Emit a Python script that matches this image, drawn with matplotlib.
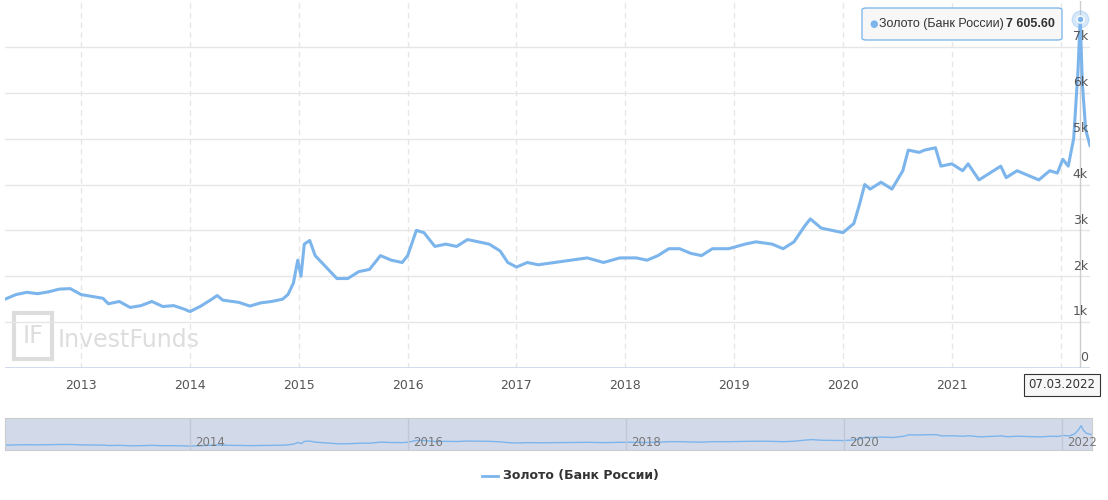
import matplotlib
matplotlib.use("Agg")
import matplotlib.pyplot as plt
from matplotlib.patches import FancyBboxPatch, Rectangle

t = [2012.30,2012.4,2012.5,2012.6,2012.7,2012.8,2012.9,2013.0,2013.1,2013.2,2013.25,2013.35,2013.45,2013.55,2013.65,2013.75,2013.85,2013.95,2014.0,2014.1,2014.2,2014.25,2014.3,2014.45,2014.55,2014.65,2014.75,2014.85,2014.9,2014.95,2014.99,2015.02,2015.05,2015.1,2015.15,2015.25,2015.35,2015.45,2015.55,2015.65,2015.75,2015.85,2015.95,2016.0,2016.08,2016.15,2016.25,2016.35,2016.45,2016.55,2016.65,2016.75,2016.85,2016.92,2017.0,2017.1,2017.2,2017.35,2017.5,2017.65,2017.8,2017.95,2018.1,2018.2,2018.3,2018.4,2018.5,2018.6,2018.7,2018.8,2018.95,2019.1,2019.2,2019.35,2019.45,2019.55,2019.65,2019.7,2019.8,2019.9,2020.0,2020.1,2020.15,2020.2,2020.25,2020.35,2020.45,2020.55,2020.6,2020.7,2020.75,2020.85,2020.9,2021.0,2021.1,2021.15,2021.25,2021.35,2021.45,2021.5,2021.6,2021.7,2021.8,2021.9,2021.97,2022.02,2022.07,2022.12,2022.16,2022.18,2022.2,2022.23,2022.27]
v = [1500,1600,1650,1620,1660,1720,1730,1600,1560,1520,1400,1450,1320,1360,1450,1340,1360,1280,1230,1350,1500,1580,1480,1430,1350,1420,1450,1500,1600,1850,2350,2000,2700,2780,2450,2200,1950,1950,2100,2150,2450,2350,2300,2450,3000,2950,2650,2700,2650,2800,2750,2700,2550,2300,2200,2300,2250,2300,2350,2400,2300,2400,2400,2350,2450,2600,2600,2500,2450,2600,2600,2700,2750,2700,2600,2750,3100,3250,3050,3000,2950,3150,3550,4000,3900,4050,3900,4300,4750,4700,4750,4800,4400,4450,4300,4450,4100,4250,4400,4150,4300,4200,4100,4300,4250,4550,4400,5000,6500,7605.6,6200,5200,4850]
years = list(range(2013, 2023))
yticks = [0,1000,2000,3000,4000,5000,6000,7000]
ylabels = ["0","1k","2k","3k","4k","5k","6k","7k"]
nav_years = [2014, 2016, 2018, 2020, 2022]
series = "Золото (Банк России)"
col = "#7cb5ec"
x0, x1 = 2012.30, 2022.27

fig = plt.figure(figsize=(11.08, 5.0), dpi=100)
ax = fig.add_axes([5/1108, 0.264, 1085/1108, 0.734])
ax.plot(t, v, color=col, lw=2.2, zorder=3)
ax.set_xlim(x0, x1); ax.set_ylim(0, 8000)
for y in yticks:
    ax.axhline(y, color="#e6e6e6", lw=1, zorder=1)
for y in years:
    ax.axvline(y, color="#e6e6e6", lw=1, ls=(0,(4,3)), zorder=1)
ax.axhline(0, color="#ccd6eb", lw=1.2, zorder=2)
ax.set_xticks([]); ax.set_yticks([])
for s in ax.spines.values(): s.set_visible(False)
for y in years[:-1]:
    ax.text(y, -250, str(y), ha="center", va="top", fontsize=9, color="#555555")
for y, l in zip(yticks, ylabels):
    ax.text(x1 - 0.02, y+80, l, ha="right", va="bottom", fontsize=9, color="#555555")
ax.text(2012.78, 600, "InvestFunds", fontsize=17, color="#dddddd", va="center", zorder=0)
ax.add_patch(Rectangle((2012.38, 200), 0.35, 1000, fill=False, ec="#dddddd", lw=3, zorder=0))
ax.text(2012.555, 700, "IF", fontsize=17, color="#dddddd", ha="center", va="center", zorder=0)
ax.plot([2022.18],[7605.6], 'o', ms=12, color=col, alpha=0.3, zorder=4)
ax.plot([2022.18],[7605.6], 'o', ms=5, color=col, mec="white", zorder=5)
ax.axvline(2022.18, color="#cccccc", lw=1, zorder=2)

fig.patches.append(FancyBboxPatch((862/1108, 1-40/500), 200/1108, 32/500, boxstyle="round,pad=0,rounding_size=0.004",
    transform=fig.transFigure, fc="#f7f7f7", ec=col, lw=1, alpha=0.95, zorder=5))
fig.text(869/1108, 1-24/500, "●", color=col, fontsize=7, va="center", zorder=6)
fig.text(879/1108, 1-24/500, series, fontsize=9, family="Liberation Sans", color="#333333", va="center", zorder=6)
fig.text(1055/1108, 1-24/500, "7 605.60", fontsize=9, family="Liberation Sans", color="#333333", va="center", ha="right", weight="bold", zorder=6)
fig.text(1062/1108, 1-385/500, "07.03.2022", fontsize=8.5, color="#333333", ha="center", va="center", zorder=6,
    bbox=dict(boxstyle="square,pad=0.4", fc="#f7f7f7", ec="#333333", lw=0.8))

nav = fig.add_axes([5/1108, 50/500, 1087/1108, 32/500])
nav.set_facecolor("#d2daea")
nav.plot(t, v, color=col, lw=1)
nav.set_xlim(x0, x1+0.01); nav.set_ylim(0, 10000)
nav.set_xticks([]); nav.set_yticks([])
for s in nav.spines.values(): s.set_color("#cccccc")
for y in nav_years:
    nav.axvline(y, color="#c0c8d8", lw=1)
    nav.text(y+0.05, 300, str(y), fontsize=8.5, color="#777777", va="bottom")

fig.lines.append(plt.Line2D([482/1108, 498/1108], [1-476/500]*2, color=col, lw=2, transform=fig.transFigure))
fig.text(503/1108, 1-476/500, series, fontsize=9, weight="bold", color="#333333", va="center")
fig.savefig("out.png", dpi=100)
